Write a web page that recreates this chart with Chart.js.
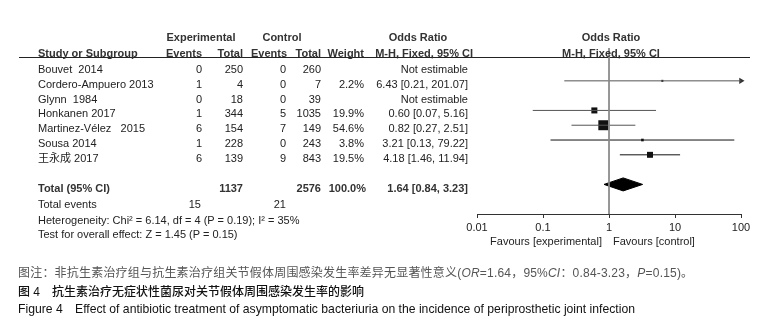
<!DOCTYPE html>
<html>
<head>
<meta charset="utf-8">
<script src="https://cdn.jsdelivr.net/npm/chart.js@4.4.1/dist/chart.umd.min.js"></script>
<style>
  body{margin:0;background:#fff;width:779px;height:335px;overflow:hidden;position:relative;
    font-family:"Liberation Sans",Arial,"Noto Sans CJK SC",sans-serif;font-size:11px;color:#222}
  .t{position:absolute;white-space:pre;line-height:13px;transform:translateY(-50%)}
  .b{font-weight:bold;color:#333}
  .cap1{font-size:12px;letter-spacing:0.2px;color:#555;font-family:"Liberation Sans","Noto Sans CJK SC",sans-serif}
  .cap2{font-size:12px;color:#111;font-weight:500;font-family:"Liberation Sans","Noto Sans CJK SC",sans-serif}
  .cap3{font-size:12.2px;color:#111}
  #rule{position:absolute;left:19px;top:57px;width:731px;height:1px;background:#222}
  #c{position:absolute;left:0;top:0}
</style>
</head>
<body>
<div id="rule"></div>
<canvas id="c" width="779" height="335"></canvas>
<script>
// study data
const studies = ['Bouvet  2014','Cordero-Ampuero 2013','Glynn  1984','Honkanen 2017','Martinez-Vélez   2015','Sousa 2014','王永成 2017'];
const expEvents = [0, 1, 0, 1, 6, 1, 6];
const expTotal = [250, 4, 18, 344, 154, 228, 139];
const ctrlEvents = [0, 0, 0, 5, 7, 0, 9];
const ctrlTotal = [260, 7, 39, 1035, 149, 243, 843];
const weights = [null, 2.2, null, 19.9, 54.6, 3.8, 19.5];
const orMid = [null, 6.43, null, 0.60, 0.82, 3.21, 4.18];
const orLow = [null, 0.21, null, 0.07, 0.27, 0.13, 1.46];
const orHigh = [null, 201.07, null, 5.16, 2.51, 79.22, 11.94];
const pooled = [1.64, 0.84, 3.23];   // OR, lower, upper
const xTicks = [0.01, 0.1, 1, 10, 100];
const ciColor = ['#555','#555','#555','#555','#555','#111','#111'];

const xMin = 0.01, xMax = 100;
const yMin = -1.22, yMax = 10.0, totalRow = 8;

// ---- table text ----
function put(txt, x, y, align, cls, html){
  const d = document.createElement('div');
  d.className = 't ' + (cls || '');
  if(html) d.innerHTML = txt; else d.textContent = txt;
  d.style.left = x + 'px'; d.style.top = y + 'px';
  if(align === 'r') d.style.transform = 'translate(-100%,-50%)';
  else if(align === 'c') d.style.transform = 'translate(-50%,-50%)';
  document.body.appendChild(d);
}
const fmt = v => v.toFixed(2);
const sum = a => a.reduce((s,v)=>s+v, 0);

put('Experimental', 201, 37, 'c', 'b');
put('Control', 282, 37, 'c', 'b');
put('Odds Ratio', 418, 37, 'c', 'b');
put('Odds Ratio', 611, 37, 'c', 'b');
put('Study or Subgroup', 38, 53, 'l', 'b');
put('Events', 202, 53, 'r', 'b');
put('Total', 243, 53, 'r', 'b');
put('Events', 287, 53, 'r', 'b');
put('Total', 321, 53, 'r', 'b');
put('Weight', 364, 53, 'r', 'b');
put('M-H, Fixed, 95% CI', 473, 53, 'r', 'b');
put('M-H, Fixed, 95% CI', 611, 53, 'c', 'b');

studies.forEach((s, i) => {
  const y = 69 + i * 14.8;
  put(s, 38, y, 'l');
  put(String(expEvents[i]), 202, y, 'r');
  put(String(expTotal[i]), 243, y, 'r');
  put(String(ctrlEvents[i]), 286, y, 'r');
  put(String(ctrlTotal[i]), 321, y, 'r');
  if(weights[i] != null) put(weights[i].toFixed(1) + '%', 364, y, 'r');
  put(orMid[i] == null ? 'Not estimable' : `${fmt(orMid[i])} [${fmt(orLow[i])}, ${fmt(orHigh[i])}]`, 468, y, 'r');
});

put('Total (95% CI)', 38, 188, 'l', 'b');
put(String(sum(expTotal)), 243, 188, 'r', 'b');
put(String(sum(ctrlTotal)), 321, 188, 'r', 'b');
put('100.0%', 366, 188, 'r', 'b');
put(`${fmt(pooled[0])} [${fmt(pooled[1])}, ${fmt(pooled[2])}]`, 468, 188, 'r', 'b');
put('Total events', 38, 204, 'l');
put(String(sum(expEvents)), 201, 204, 'r');
put(String(sum(ctrlEvents)), 286, 204, 'r');
put('Heterogeneity: Chi² = 6.14, df = 4 (P = 0.19); I² = 35%', 38, 220, 'l');
put('Test for overall effect: Z = 1.45 (P = 0.15)', 38, 234, 'l');
put('Favours [experimental]', 602, 241, 'r');
put('Favours [control]', 613, 241, 'l');

put('图注：非抗生素治疗组与抗生素治疗组关节假体周围感染发生率差异无显著性意义(<i>OR</i>=1.64，95%<i>CI</i>：0.84-3.23，<i>P</i>=0.15)。', 18, 273, 'l', 'cap1', true);
put('图 4', 18, 292, 'l', 'cap2');
put('抗生素治疗无症状性菌尿对关节假体周围感染发生率的影响', 52, 292, 'l', 'cap2');
put('Figure 4', 18, 309, 'l', 'cap3');
put('Effect of antibiotic treatment of asymptomatic bacteriuria on the incidence of periprosthetic joint infection', 75, 309, 'l', 'cap3');

// ---- forest plot ----
const datasets = [];
datasets.push({ data: [{x:1, y:yMin}, {x:1, y:yMax}], borderColor:'#888', borderWidth:1, pointRadius:0 });
studies.forEach((s, i) => {
  if(orMid[i] == null) return;
  datasets.push({ data: [{x:orLow[i], y:i}, {x:Math.min(orHigh[i], xMax), y:i}],
    borderColor: ciColor[i], borderWidth:1, pointRadius:0 });
});
datasets.push({
  data: studies.map((s,i)=>({x:orMid[i], y:i})).filter(p => p.x != null),
  showLine:false, pointStyle:'rect', backgroundColor:'#111', borderWidth:0,
  pointRadius: weights.filter(w => w != null).map(w => Math.max(1.3, 1.35*Math.sqrt(w)/1.414))
});
// arrow where the CI runs past the axis
datasets.push({
  data: studies.map((s,i)=>({x:xMax, y:i})).filter((p,i) => orHigh[i] != null && orHigh[i] > xMax),
  showLine:false, pointStyle:'triangle', rotation:90, backgroundColor:'#333', borderWidth:0, pointRadius:3.5,
  clip:false
});
datasets.push({
  data: [{x:pooled[1], y:totalRow}, {x:pooled[0], y:totalRow-0.44}, {x:pooled[2], y:totalRow},
         {x:pooled[0], y:totalRow+0.44}, {x:pooled[1], y:totalRow}],
  borderColor:'#000', backgroundColor:'#000', borderWidth:1, pointRadius:0, fill:'shape', tension:0
});

new Chart(document.getElementById('c'), {
  type: 'line',
  data: { datasets },
  options: {
    responsive:false, animation:false, devicePixelRatio:1,
    layout: { padding: { left:477, right:38, top:48, bottom:99 } },
    plugins: { legend:{display:false}, tooltip:{enabled:false} },
    scales: {
      x: {
        type:'logarithmic', min:xMin, max:xMax,
        afterBuildTicks: s => { s.ticks = xTicks.map(v => ({value:v})); },
        afterFit: s => { s.height = 22; },
        ticks: { font:{family:'"Liberation Sans", Arial', size:11}, color:'#222', padding:3,
          maxRotation:0, autoSkip:false, callback: v => String(v) },
        grid: { drawOnChartArea:false, tickLength:4, color:'#333' },
        border: { color:'#333' }
      },
      y: { type:'linear', min:yMin, max:yMax, reverse:true, display:false }
    }
  }
});
</script>
</body>
</html>
